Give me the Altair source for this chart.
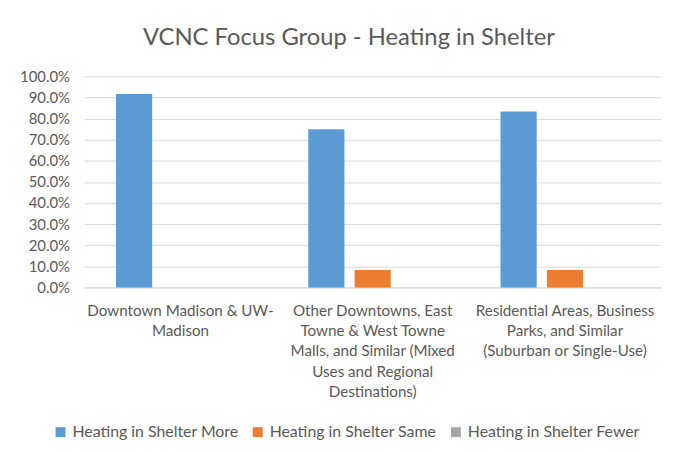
import altair as alt
import pandas as pd

categories = [
    "Downtown Madison & UW-\nMadison",
    "Other Downtowns, East\nTowne & West Towne\nMalls, and Similar (Mixed\nUses and Regional\nDestinations)",
    "Residential Areas, Business\nParks, and Similar\n(Suburban or Single-Use)",
]
series = ["Heating in Shelter More", "Heating in Shelter Same", "Heating in Shelter Fewer"]
more = [0.917, 0.75, 0.833]
same = [0.0, 0.083, 0.083]
fewer = [0.0, 0.0, 0.0]
colors = ["#5b9bd5", "#ed7d31", "#a5a5a5"]
y_ticks = [0.0, 0.1, 0.2, 0.3, 0.4, 0.5, 0.6, 0.7, 0.8, 0.9, 1.0]

rows = []
for i, c in enumerate(categories):
    for s, vals in zip(series, [more, same, fewer]):
        rows.append({"category": c, "series": s, "value": vals[i]})
df = pd.DataFrame(rows)

font = "Lato"
gray = "#595959"

chart = alt.Chart(df).mark_bar().encode(
    x=alt.X("category:N", sort=categories,
            scale=alt.Scale(paddingInner=0.33, paddingOuter=0.165),
            axis=alt.Axis(title=None, labelAngle=0, labelExpr="split(datum.value, '\\n')",
                          labelFont=font, labelFontSize=15.3, labelColor=gray,
                          labelLineHeight=20.5, labelPadding=16, ticks=False,
                          domainColor="#d9d9d9", labelLimit=300)),
    xOffset=alt.XOffset("series:N", sort=series, scale=alt.Scale(paddingInner=0.22)),
    y=alt.Y("value:Q", scale=alt.Scale(domain=[0, 1]),
            axis=alt.Axis(title=None, format=".1%", values=y_ticks, labelOverlap=False,
                          labelFont=font, labelFontSize=15, labelColor=gray,
                          ticks=False, domain=False, labelPadding=15,
                          gridColor="#d9d9d9")),
    color=alt.Color("series:N", sort=series,
                    scale=alt.Scale(domain=series, range=colors),
                    legend=alt.Legend(title=None, orient="none", direction="horizontal",
                                      legendX=-32, legendY=351,
                                      symbolType="square", symbolSize=100, symbolStrokeWidth=0,
                                      labelFont=font, labelFontSize=16, labelColor=gray,
                                      labelLimit=300, columnPadding=11)),
).properties(
    width=582, height=213,
    title=alt.Title("VCNC Focus Group - Heating in Shelter", font=font, fontSize=24,
                    fontWeight="normal", color=gray, offset=20, dx=-24),
    padding={"left": 11, "top": 16, "right": 10, "bottom": 5},
).configure_view(stroke=None)

chart.save("out.html", embed_options={"renderer": "svg", "actions": False})
